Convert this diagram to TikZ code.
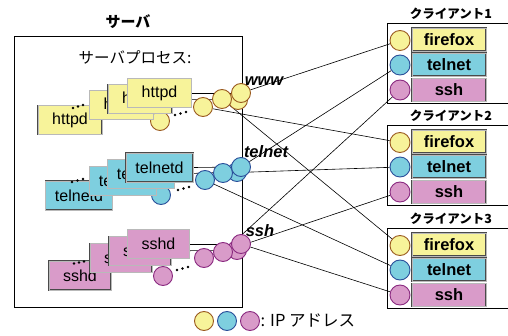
\documentclass[tikz,border=0pt]{standalone}
\usepackage{fontspec}
\setmainfont{Liberation Sans}
\newfontfamily\jp{Noto Sans CJK JP}
\usetikzlibrary{backgrounds}
\definecolor{yel}{HTML}{F7F39A}
\definecolor{cya}{HTML}{7ECFDF}
\definecolor{pnk}{HTML}{D99BC9}
\definecolor{yelD}{HTML}{9A5A20}
\definecolor{cyaD}{HTML}{2A4F9A}
\definecolor{pnkD}{HTML}{8A2A80}
\definecolor{boxedge}{HTML}{4A4A4A}
\tikzset{
  edgy/.style={draw=boxedge, line width=0.55pt, double=gray!55, double distance=0.7pt},
  proc/.style={edgy, minimum height=29pt, inner sep=0pt,
    font=\fontsize{16}{16}\selectfont},
  cli/.style={edgy, minimum width=74pt, minimum height=23pt,
    inner sep=0pt, font=\fontsize{16.5}{16.5}\selectfont\bfseries},
  ip/.style={circle, line width=0.9pt, minimum size=19pt, inner sep=0pt},
  cip/.style={circle, line width=0.9pt, minimum size=20pt, inner sep=0pt},
  ipY/.style={fill=yel, draw=yelD},
  ipC/.style={fill=cya, draw=cyaD},
  ipP/.style={fill=pnk, draw=pnkD},
  link/.style={draw=black, line width=0.6pt},
  dotc/.style={circle, fill=black, inner sep=0pt, minimum size=2.7pt},
  frame/.style={draw=black, line width=0.9pt},
  svc/.style={font=\fontsize{16.5}{16.5}\selectfont\bfseries\itshape},
  ttl/.style={font=\jp\bfseries\fontsize{12.5}{12.5}\selectfont},
}
\begin{document}
\begin{tikzpicture}[x=1pt,y=-1pt]
\useasboundingbox (0,0) rectangle (508,336);

% server frame and titles
\draw[frame] (14,36) rectangle (242,307);
\node[font=\jp\bfseries\fontsize{15}{15}\selectfont] (srvt) at (128,21.5) {サーバ};
\node[font=\jp\fontsize{15.5}{15.5}\selectfont] (proct) at (135,57) {サーバプロセス:};

% ---------- clients ----------
\foreach \k/\T in {1/23,2/125,3/228}{
  \draw[frame] (508,\T) -- (387,\T) -- (387,\T+80) -- (508,\T+80);
  \node[ttl] (ct\k) at (451,\T-9) {クライアント\k};
  \node[cli, fill=yel] (ff\k) at (449,\T+16.5) {firefox};
  \node[cli, fill=cya] (tn\k) at (449,\T+41.5) {telnet};
  \node[cli, fill=pnk] (sh\k) at (449,\T+67) {ssh};
  \node[cip, ipY] (cff\k) at (400,\T+17.5) {};
  \node[cip, ipC] (ctn\k) at (400,\T+42) {};
  \node[cip, ipP] (csh\k) at (400,\T+67) {};
}

% ---------- httpd group ----------
\node[ip, ipY] (hc4) at (238,100) {};
\node[ip, ipY] (hc1) at (160,121) {};
\node[ip, ipY] (hc2) at (203,107) {};
\node[ip, ipY] (hc3) at (222,99) {};
\node[ip, ipY] (hc5) at (241,93) {};
\node[proc, fill=yel, minimum width=64pt] (h1) at (70,120) {httpd};
\node[dotc] (hd1) at (73,108) {};
\node[dotc] (hd2) at (78,106.5) {};
\node[dotc] (hd3) at (83,105) {};
\node[proc, fill=yel, minimum width=64pt] (h2) at (121.5,105) {httpd};
\node[proc, fill=yel, minimum width=64pt] (h3) at (140,99) {httpd};
\node[proc, fill=yel, minimum width=64pt] (h4) at (159.5,93) {httpd};
\node[dotc] (he1) at (175,115) {};
\node[dotc] (he2) at (180.5,113.5) {};
\node[dotc] (he3) at (186,112) {};

% ---------- telnetd group ----------
\node[ip, ipC] (tc4) at (237,172) {};
\node[ip, ipC] (tc1) at (161,195) {};
\node[ip, ipC] (tc2) at (205,180) {};
\node[ip, ipC] (tc3) at (223,173) {};
\node[ip, ipC] (tc5) at (241,167) {};
\node[proc, fill=cya, minimum width=67pt] (t1) at (79,195.5) {telnetd};
\node[dotc] (td1) at (72,182) {};
\node[dotc] (td2) at (77.5,180.5) {};
\node[dotc] (td3) at (83,179) {};
\node[proc, fill=cya, minimum width=67pt] (t2) at (123,181) {telnetd};
\node[proc, fill=cya, minimum width=67pt] (t3) at (141,174) {telnetd};
\node[proc, fill=cya, minimum width=67pt] (t4) at (159.5,167.5) {telnetd};
\node[dotc] (te1) at (178,190) {};
\node[dotc] (te2) at (183.5,188.5) {};
\node[dotc] (te3) at (189,187) {};

% ---------- sshd group ----------
\node[ip, ipP] (sc4) at (237,250) {};
\node[ip, ipP] (sc1) at (163,276) {};
\node[ip, ipP] (sc2) at (204,258) {};
\node[ip, ipP] (sc3) at (223,252) {};
\node[ip, ipP] (sc5) at (241,244) {};
\node[proc, fill=pnk, minimum width=62pt] (s1) at (80,275.5) {sshd};
\node[dotc] (sd1) at (74,263.5) {};
\node[dotc] (sd2) at (79,262.5) {};
\node[dotc] (sd3) at (84,261.5) {};
\node[proc, fill=pnk, minimum width=62pt] (s2) at (121,258) {sshd};
\node[proc, fill=pnk, minimum width=62pt] (s3) at (140,251) {sshd};
\node[proc, fill=pnk, minimum width=62pt] (s4) at (158.5,244) {sshd};
\node[dotc] (se1) at (177,270) {};
\node[dotc] (se2) at (182.5,268.5) {};
\node[dotc] (se3) at (188,267) {};

% service labels
\node[svc] (lw) at (264,81) {www};
\node[svc] (lt) at (266,152) {telnet};
\node[svc] (ls) at (260,231) {ssh};

% legend
\node[ip, ipY] (lg1) at (204,321) {};
\node[ip, ipC] (lg2) at (227,321) {};
\node[ip, ipP] (lg3) at (250,321) {};
\node[anchor=west, inner sep=0pt, font=\jp\fontsize{16.5}{16.5}\selectfont] (lgt) at (260.5,321) {: IP アドレス};

% ---------- connectors (behind) ----------
\begin{scope}[on background layer]
  \draw[link] (h4.east) -- (hc5.center);
  \draw[link] (h3.east) -- (hc4.center);
  \draw[link] (t4.east) -- (tc5.center);
  \draw[link] (t3.east) -- (tc4.center);
  \draw[link] (s4.east) -- (sc5.center);
  \draw[link] (s3.east) -- (sc4.center);
  \draw[link] (hc5) -- (cff1);
  \draw[link] (hc2) -- (cff2);
  \draw[link] (hc3) -- (cff3);
  \draw[link] (tc5) -- (ctn1);
  \draw[link] (tc3) -- (ctn2);
  \draw[link] (tc2) -- (ctn3);
  \draw[link] (sc3) -- (csh1);
  \draw[link] (sc2) -- (csh2);
  \draw[link] (sc5) -- (csh3);
\end{scope}
\end{tikzpicture}
\end{document}
